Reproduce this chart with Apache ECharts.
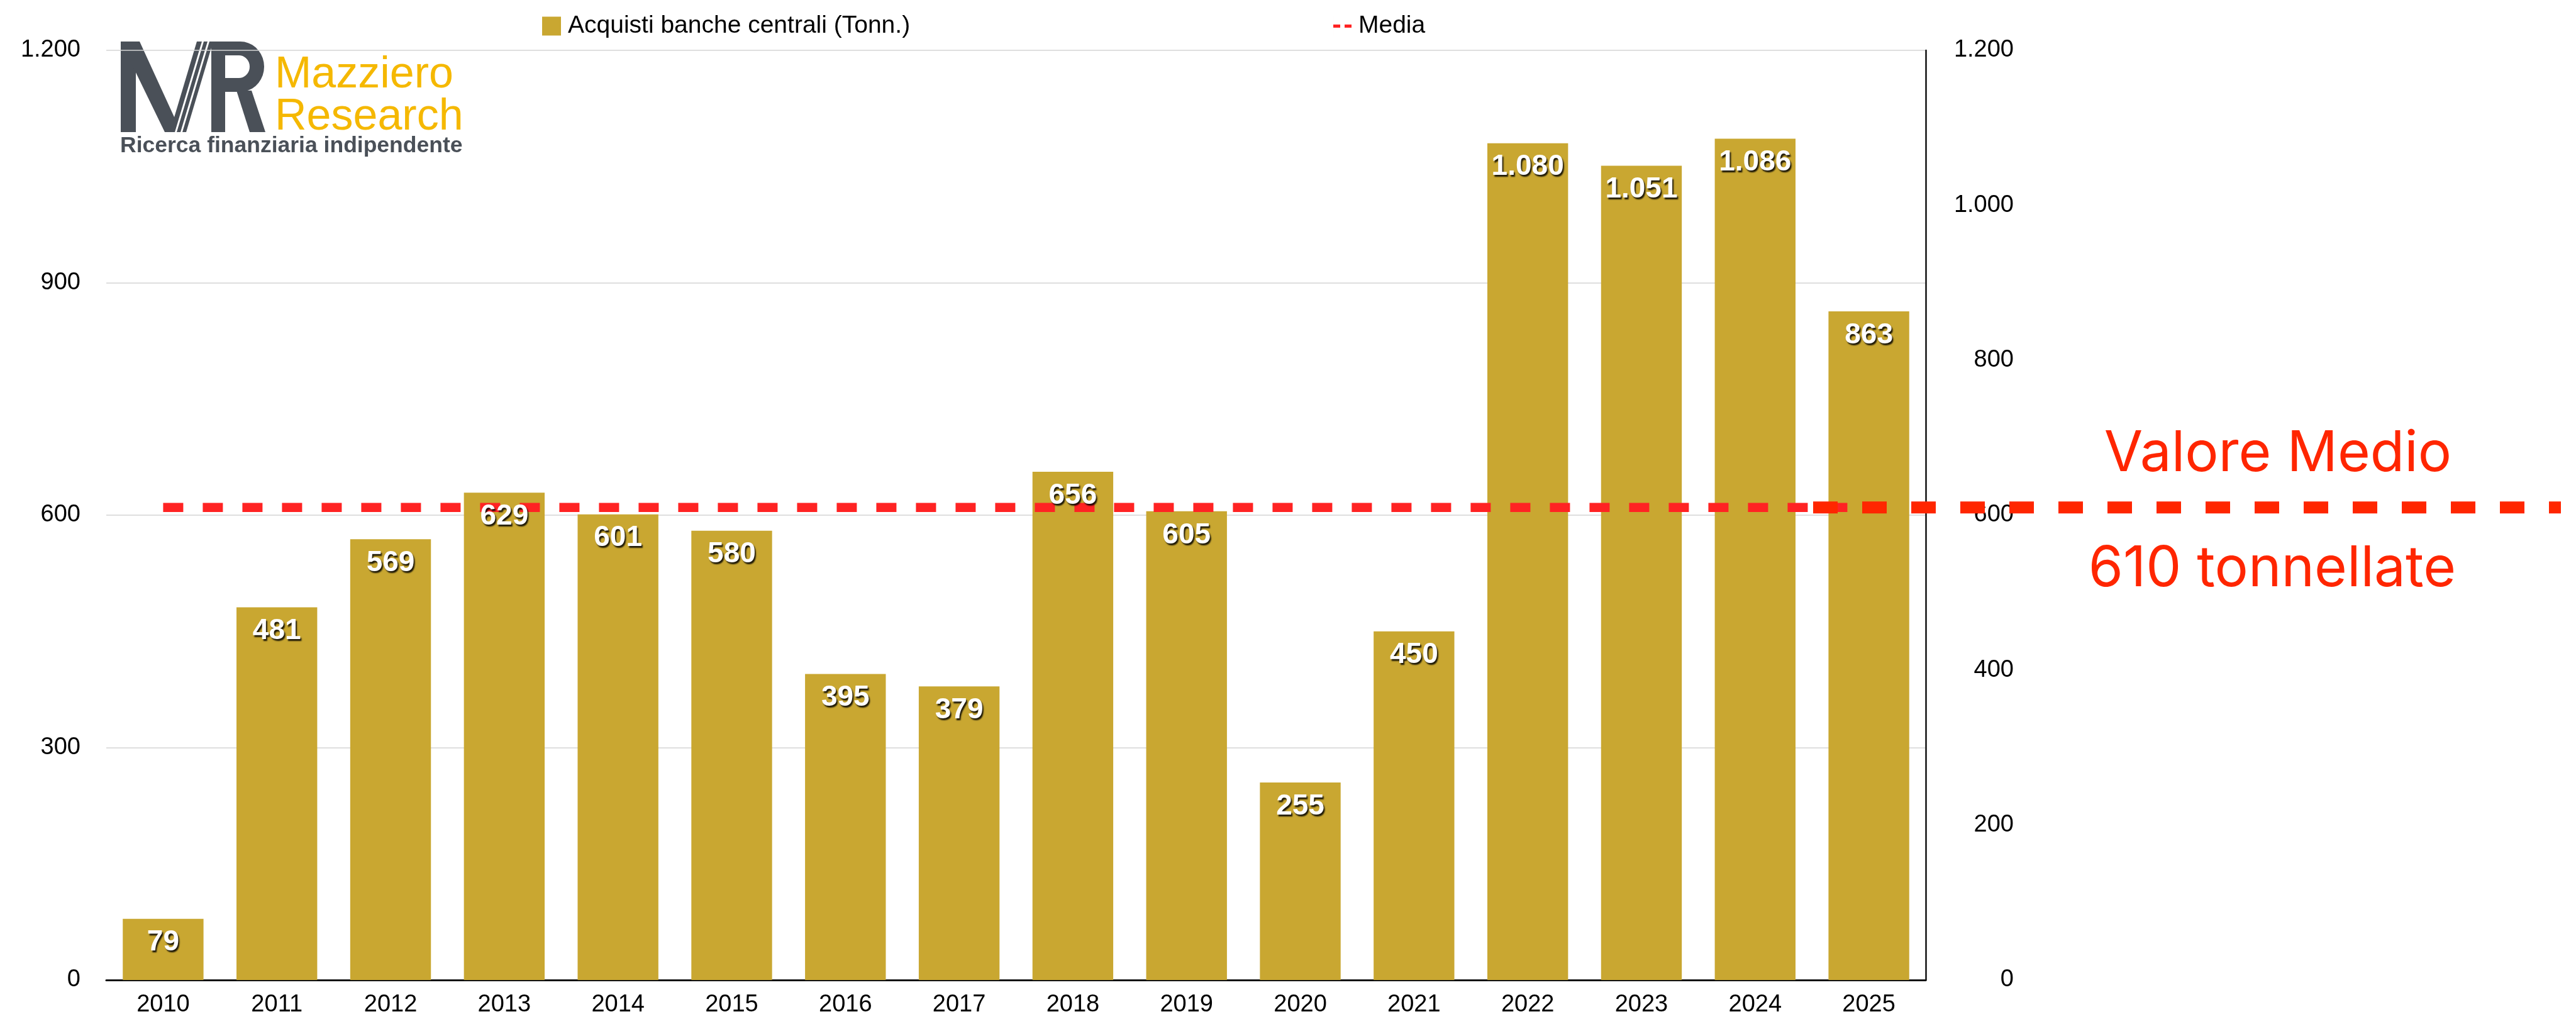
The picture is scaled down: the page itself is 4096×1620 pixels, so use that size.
<!DOCTYPE html>
<html>
<head>
<meta charset="utf-8">
<title>Acquisti banche centrali</title>
<script src="https://cdn.jsdelivr.net/npm/echarts@6/dist/echarts.min.js"></script>
<style>
  html, body { margin: 0; padding: 0; background: #fff; }
  #chart { width: 4096px; height: 1620px; }
</style>
</head>
<body>
<div id="chart"></div>
<script>
// data
const years = ['2010', '2011', '2012', '2013', '2014', '2015', '2016', '2017',
  '2018', '2019', '2020', '2021', '2022', '2023', '2024', '2025'];
const acquisti = [79, 481, 569, 629, 601, 580, 395, 379, 656, 605, 255, 450, 1080, 1051, 1086, 863];
const media = [610, 610, 610, 610, 610, 610, 610, 610, 610, 610, 610, 610, 610, 610, 610, 610];
const mediaOverlay = [[0, 610], [1, 610]];
const leftTicks = [0, 300, 600, 900, 1200];
const rightTicks = [0, 200, 400, 600, 800, 1000, 1200];

const FONT = '"Liberation Sans", Helvetica, Arial, sans-serif';
const GOLD = '#c9a731';
const RED = '#ff2323';
const LOGO_GREY = '#4a5058';

// 1080 -> "1.080"
function fmt(v) {
  return String(v).replace(/\B(?=(\d{3})+(?!\d))/g, '.');
}

// logo: bowl of the R as a polygon (outer half circle, then inner one back)
function rBowl() {
  const pts = [[166, 0], [190, 0]];
  for (let a = -90; a <= 90; a += 10) {
    const r = a * Math.PI / 180;
    pts.push([190 + 38 * Math.cos(r), 40 + 40 * Math.sin(r)]);
  }
  pts.push([166, 80], [166, 58], [188, 58]);
  for (let a = 90; a >= -90; a -= 10) {
    const r = a * Math.PI / 180;
    pts.push([188 + 17 * Math.cos(r), 40 + 18 * Math.sin(r)]);
  }
  pts.push([166, 22]);
  return pts;
}

function logoPoly(points, fill) {
  return { type: 'polygon', shape: { points: points }, style: { fill: fill } };
}

const legendText = { fontFamily: FONT, fontSize: 39, color: '#000', padding: [0, 0, 0, 6] };

const chart = echarts.init(document.getElementById('chart'));

const option = {
  animation: false,
  backgroundColor: '#fff',
  legend: [
    {
      data: ['Acquisti banche centrali (Tonn.)'],
      left: 857, top: 17,
      icon: 'rect', itemWidth: 30, itemHeight: 30,
      textStyle: legendText
    },
    {
      data: ['Media'],
      left: 2115, top: 17,
      // two short dashes, centred in a 30px tall box
      icon: 'path://M0,0 H0.01 V30 H0 Z M0,12.5 H11 V17.5 H0 Z M18,12.5 H29 V17.5 H18 Z',
      itemWidth: 29, itemHeight: 30,
      textStyle: legendText
    }
  ],
  grid: [
    { left: 169, right: 1034, top: 80, bottom: 62 },
    { left: 2883, width: 1189, top: 80, bottom: 62 }
  ],
  xAxis: [
    {
      type: 'category', gridIndex: 0, data: years,
      axisLine: { lineStyle: { color: '#111', width: 3 } },
      axisTick: { show: false },
      axisLabel: { fontFamily: FONT, fontSize: 38, color: '#000', margin: 21 }
    },
    { type: 'value', gridIndex: 1, min: 0, max: 1, show: false }
  ],
  yAxis: [
    {
      type: 'value', gridIndex: 0, position: 'left',
      min: leftTicks[0], max: leftTicks[leftTicks.length - 1], interval: leftTicks[1] - leftTicks[0],
      axisLine: { show: false }, axisTick: { show: false },
      splitLine: { lineStyle: { color: '#d4d4d4', width: 1.5 } },
      axisLabel: { fontFamily: FONT, fontSize: 38, color: '#000', margin: 41, formatter: fmt }
    },
    {
      type: 'value', gridIndex: 0, position: 'right',
      min: rightTicks[0], max: rightTicks[rightTicks.length - 1], interval: rightTicks[1] - rightTicks[0],
      axisLine: { show: true, lineStyle: { color: '#111', width: 2.5 } },
      axisTick: { show: false }, splitLine: { show: false },
      axisLabel: { fontFamily: FONT, fontSize: 38, color: '#000', margin: 140, align: 'right', formatter: fmt }
    },
    { type: 'value', gridIndex: 1, min: 0, max: 1200, show: false }
  ],
  series: [
    {
      name: 'Acquisti banche centrali (Tonn.)',
      type: 'bar', xAxisIndex: 0, yAxisIndex: 0,
      data: acquisti,
      barCategoryGap: '29%',
      itemStyle: { color: GOLD },
      z: 2
    },
    {
      // same bars, transparent, only to put the value labels above the dashed line
      name: 'etichette',
      type: 'bar', xAxisIndex: 0, yAxisIndex: 0,
      data: acquisti,
      barCategoryGap: '29%', barGap: '-100%',
      itemStyle: { color: 'rgba(0,0,0,0)' },
      silent: true,
      label: {
        show: true, position: 'insideTop', distance: 15,
        fontFamily: FONT, fontSize: 46, fontWeight: 'bold', color: '#fff',
        textShadowColor: 'rgba(0,0,0,0.85)', textShadowBlur: 2,
        textShadowOffsetX: 2, textShadowOffsetY: 3,
        formatter: p => fmt(p.value)
      },
      z: 6
    },
    {
      name: 'Media',
      type: 'line', xAxisIndex: 0, yAxisIndex: 0,
      data: media,
      symbol: 'none',
      itemStyle: { color: RED },
      lineStyle: { color: RED, width: 14.6, type: [32, 31] },
      z: 3
    },
    {
      // thick dashed marker running past the plot, towards the note
      type: 'line', xAxisIndex: 1, yAxisIndex: 2,
      data: mediaOverlay,
      symbol: 'none', silent: true,
      lineStyle: { color: '#ff2600', width: 19, type: [39, 39] },
      z: 7
    }
  ],
  graphic: [
    // logo mark
    {
      type: 'group', x: 192, y: 66, z: 10,
      children: [
        logoPoly([[0, 0], [24, 0], [24, 144], [0, 144]], LOGO_GREY),
        logoPoly([[0, 0], [30, 0], [96, 144], [70, 144]], LOGO_GREY),
        logoPoly([[78, 144], [104, 144], [147, 0], [121, 0]], LOGO_GREY),
        logoPoly([[86, 144], [89, 144], [132, 0], [129, 0]], '#fff'),
        logoPoly([[95, 144], [98, 144], [141, 0], [138, 0]], '#fff'),
        logoPoly([[144, 0], [166, 0], [166, 144], [144, 144]], LOGO_GREY),
        logoPoly(rBowl(), LOGO_GREY),
        logoPoly([[184, 78], [208, 78], [230, 144], [205, 144]], LOGO_GREY)
      ]
    },
    {
      type: 'text', x: 437, y: 120, z: 10,
      style: { text: 'Mazziero', font: '70px ' + FONT, fill: '#f5b800', textVerticalAlign: 'middle' }
    },
    {
      type: 'text', x: 437, y: 187, z: 10,
      style: { text: 'Research', font: '70px ' + FONT, fill: '#f5b800', textVerticalAlign: 'middle' }
    },
    {
      type: 'text', x: 191, y: 232, z: 10,
      style: { text: 'Ricerca finanziaria indipendente', font: 'bold 35.5px ' + FONT, fill: LOGO_GREY, textVerticalAlign: 'middle' }
    },
    // note on the average
    {
      type: 'text', x: 3622, y: 722, z: 10,
      style: { text: 'Valore Medio', font: '89px Inter, "Open Sans", sans-serif', fill: '#ff2600', textAlign: 'center', textVerticalAlign: 'middle' }
    },
    {
      type: 'text', x: 3613, y: 905, z: 10,
      style: { text: '610 tonnellate', font: '89px Inter, "Open Sans", sans-serif', fill: '#ff2600', textAlign: 'center', textVerticalAlign: 'middle' }
    }
  ]
};

chart.setOption(option);
</script>
</body>
</html>
